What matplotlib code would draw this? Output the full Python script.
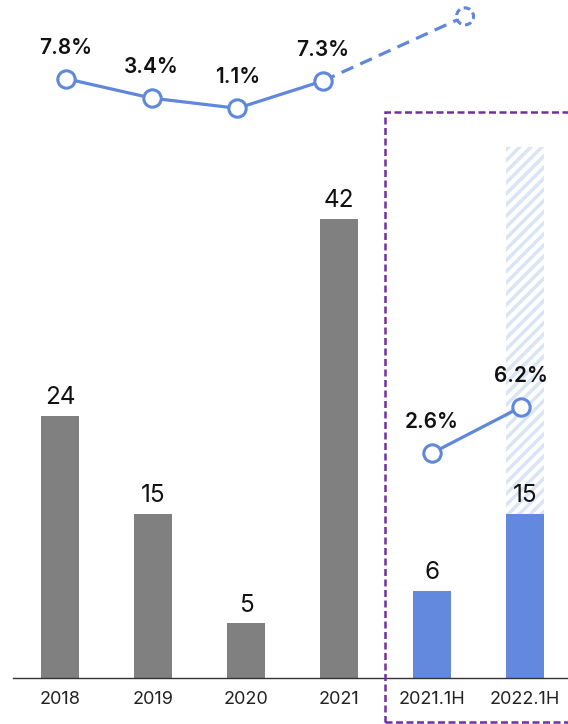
import numpy as np
import matplotlib.pyplot as plt
from matplotlib.patches import Rectangle

plt.rcParams['font.family'] = ['Inter', 'DejaVu Sans']
plt.rcParams['hatch.linewidth'] = 2.5

# bars
categories = ["2018", "2019", "2020", "2021", "2021.1H", "2022.1H"]
bar_labels = ["24", "15", "5", "42", "6", "15"]
bar_heights = [24, 15, 5, 42, 8, 15]   # heights as drawn in the picture
bar_colors = ["#808080", "#808080", "#808080", "#808080", "#6289DD", "#6289DD"]
outline_height = 48.6                   # hatched bar behind 2022.1H

# rate lines (%)
rate_years = [7.8, 3.4, 1.1, 7.3]
rate_labels = ["7.8%", "3.4%", "1.1%", "7.3%"]
rate_proj = 21.9
rate_half = [2.6, 6.2]
rate_half_labels = ["2.6%", "6.2%"]

blue = "#5F87DC"
x = np.arange(len(categories))
top_x = 0.065 + 0.921 * np.arange(len(rate_years))
proj_x = 4.355
half_x = [4.0, 4.957]

fig = plt.figure(figsize=(5.68, 7.24), dpi=100)
ax = fig.add_axes([13/568, 46/724, 555/568, 678/724])

ax.bar(x[5], outline_height, width=0.40, color="white", edgecolor="#D9E4F5",
       hatch="///", linewidth=0, zorder=1)
ax.bar(x, bar_heights, width=0.40, color=bar_colors, zorder=2)
for xi, h, lab in zip(x, bar_heights, bar_labels):
    ax.annotate(lab, (xi, h), xytext=(0, 8.5), textcoords="offset points",
                ha="center", va="baseline", fontsize=17.5, color="#111111")

ax.set_xlim(-47/93, 508/93)
ax.set_ylim(0, 62.0)
ax.set_xticks(x)
ax.set_xticklabels(categories, fontsize=13, color="#222222")
ax.tick_params(axis="x", length=0, pad=9)
ax.set_yticks([])
for s in ["top", "left", "right"]:
    ax.spines[s].set_visible(False)
ax.spines["bottom"].set_color("#333333")
ax.spines["bottom"].set_linewidth(1.0)

# yearly rate line
ax2 = ax.twinx()
ax2.axis("off")
ax2.set_ylim(-127.8, 25.6)
ax2.plot([top_x[-1], proj_x], [rate_years[-1], rate_proj], color=blue, lw=2.3,
         linestyle=(0, (4, 2.4)), zorder=3, clip_on=False)
ax2.scatter([proj_x], [rate_proj], s=150, facecolors="white", edgecolors=blue,
            linewidths=2.2, linestyles=(0, (2.2, 1.3)), zorder=4, clip_on=False)
ax2.plot(top_x, rate_years, color=blue, lw=2.3, marker="o", ms=12.5,
         mfc="white", mec=blue, mew=2.2, zorder=5, clip_on=False)
for xi, v, lab in zip(top_x, rate_years, rate_labels):
    ax2.annotate(lab, (xi, v), xytext=(0, 18), textcoords="offset points",
                 ha="center", va="baseline", fontsize=15, fontweight="semibold",
                 color="#111111")

# half-year rate line
ax3 = ax.twinx()
ax3.axis("off")
ax3.set_ylim(-15.0, 38.05)
ax3.plot(half_x, rate_half, color=blue, lw=2.3, marker="o", ms=12.5,
         mfc="white", mec=blue, mew=2.2, zorder=5, clip_on=False)
for xi, v, lab in zip(half_x, rate_half, rate_half_labels):
    ax3.annotate(lab, (xi, v), xytext=(0, 18), textcoords="offset points",
                 ha="center", va="baseline", fontsize=15, fontweight="semibold",
                 color="#111111")

# dashed frame around the half-year section
fig.add_artist(Rectangle((385/568, 2/724), 0.4, 610/724, transform=fig.transFigure,
                         fill=False, edgecolor="#7030A0", lw=1.8,
                         linestyle=(0, (2.8, 1.4)), clip_on=False))

fig.savefig("out.png", dpi=100)
